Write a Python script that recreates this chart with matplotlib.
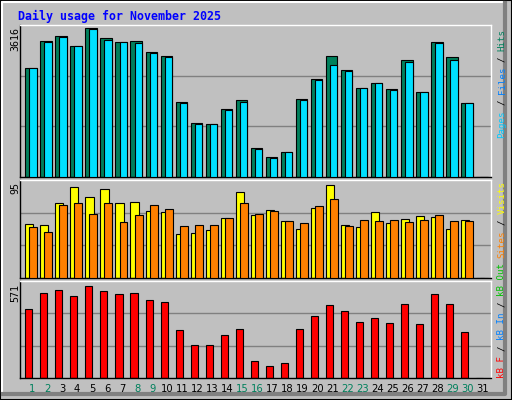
import matplotlib
matplotlib.use("Agg")
import matplotlib.pyplot as plt
import numpy as np
from matplotlib.patches import Rectangle

days = list(range(1, 32))
hits = [2656,3291,3413,3169,3616,3364,3266,3291,3022,2949,1825,1312,1287,1654,1874,701,481,603,1898,2387,2949,2607,2167,2289,2143,2851,2069,3266,2924,1800,0]
files = [2656,3266,3389,3169,3590,3315,3266,3242,2998,2924,1800,1287,1287,1630,1825,677,457,603,1874,2362,2729,2582,2167,2289,2118,2802,2069,3242,2851,1800,0]
visits = [55,54,77,93,83,91,77,78,68,67,45,46,49,61,88,64,70,58,50,72,95,54,52,67,56,60,63,62,50,59,0]
sites = [52,47,75,77,65,77,57,64,75,71,53,54,54,61,77,65,68,58,56,74,81,53,59,58,59,57,59,64,58,58,0]
kbytes = [427,527,546,508,571,540,521,527,483,471,296,208,208,265,302,108,77,96,302,383,452,415,346,371,340,458,333,521,458,283,0]
weekend = [1,2,8,9,15,16,22,23,29,30]

W, H = 512, 400
fig = plt.figure(figsize=(5.12, 4.0), dpi=100)
fig.patch.set_facecolor("#C0C0C0")
bg = "#C0C0C0"

def ax_at(x0, y0, x1, y1):
    return fig.add_axes([x0 / W, 1 - y1 / H, (x1 - x0) / W, (y1 - y0) / H])

fig.patches.append(Rectangle((0, 0), 1, 1, transform=fig.transFigure, fill=False, ec="black", lw=1.5))
fig.add_artist(plt.Line2D([2/W, 2/W, 1-8/W], [8/H, 1-2/H, 1-2/H], transform=fig.transFigure, color="white", lw=1.5))
fig.add_artist(plt.Line2D([3/W, 1-7/W, 1-7/W], [6/H, 6/H, 1-3/H], transform=fig.transFigure, color="#808080", lw=3))

x = np.array(days, dtype=float)
panels = [(25, 177), (180, 278), (281, 378)]
axs = []
for (y0, y1) in panels:
    a = ax_at(20, y0, 491, y1)
    a.set_facecolor(bg)
    a.set_xlim(0.2, 31.53)
    a.set_xticks([]); a.set_yticks([])
    for s in a.spines.values():
        s.set_color("black"); s.set_linewidth(1)
    a.spines["top"].set_color("white")
    a.spines["right"].set_color("white")
    axs.append(a)

def grid(a, top):
    for f in (1/3, 2/3):
        a.axhline(top * f, color="#808080", lw=1, zorder=0)

a = axs[0]
top = 3616 / (148 / 151)
a.set_ylim(0, top)
grid(a, top)
a.bar(x - 0.45, hits, width=0.76, align="edge", color="#00805C", ec="black", lw=0.8, zorder=2)
a.bar(x - 0.18, files, width=0.49, align="edge", color="#00E0FF", ec="black", lw=0.8, zorder=3)

a = axs[1]
top = 95 / (92 / 97)
a.set_ylim(0, top)
grid(a, top)
a.bar(x - 0.45, visits, width=0.54, align="edge", color="#FFFF00", ec="black", lw=0.8, zorder=2)
a.bar(x - 0.18, sites, width=0.53, align="edge", color="#FF8000", ec="black", lw=0.8, zorder=3)

a = axs[2]
top = 571 / (91 / 96)
a.set_ylim(0, top)
grid(a, top)
a.bar(x - 0.45, kbytes, width=0.47, align="edge", color="#FF0000", ec="black", lw=0.8, zorder=2)

mono = "DejaVu Sans Mono"
fig.text(18 / W, 1 - 16 / H, "Daily usage for November 2025", color="#0000FF",
         family=mono, weight="bold", fontsize=8.4, va="center", ha="left")

for lab, ytop in (("3616", 27), ("95", 182), ("571", 284)):
    fig.text(15 / W, 1 - ytop / H, lab, rotation=90, family=mono, fontsize=7.2,
             ha="center", va="top")

for d in days:
    fig.text((20 + (d - 0.2) * 15.03) / W, 1 - 389 / H, str(d), ha="center", va="center",
             fontsize=7.2, color="#00805C" if d in weekend else "black")

CH = 5.45  # pixels per character
def colored_col(xpix, ybottom, pieces):
    pos = 0
    for p, c in pieces:
        stripped = p.lstrip(" ")
        lead = len(p) - len(stripped)
        word = stripped.rstrip(" ")
        if word:
            fig.text(xpix / W, 1 - (ybottom - (pos + lead) * CH) / H, word, rotation=90,
                     rotation_mode="anchor", ha="left", va="center", family=mono,
                     fontsize=6.6, color=c)
        pos += len(p)

colored_col(502, 138, [("Pages", "#00C8FF"), (" / ", "black"), ("Files", "#0080FF"), (" / ", "black"), ("Hits", "#00805C")])
colored_col(502, 378, [("kB F", "#FF0000"), (" / ", "black"), ("kB In", "#0080FF"), (" / ", "black"),
                       ("kB Out", "#00C000"), (" ", "black"), ("Sites", "#FF8000"), (" / ", "black"), ("Visits", "#FFFF00")])

fig.savefig("out.png", dpi=100, facecolor=fig.get_facecolor())
